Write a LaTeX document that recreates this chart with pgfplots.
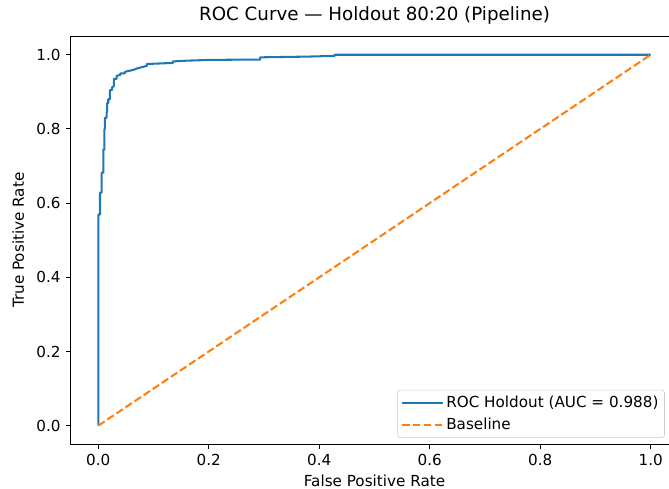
\documentclass[border=0pt]{standalone}
\usepackage{pgfplots}
\pgfplotsset{compat=1.18}
\usepackage{fontspec}
\setmainfont{DejaVu Sans}
\definecolor{tabblue}{HTML}{1F77B4}
\definecolor{taborange}{HTML}{FF7F0E}
\begin{document}
\fontsize{11.4pt}{13.7pt}\selectfont
\begin{tikzpicture}
\begin{axis}[
  at={(53.03pt,33.6pt)}, anchor=south west,
  scale only axis, width=455.7pt, height=306pt,
  xmin=-0.05, xmax=1.05, ymin=-0.05, ymax=1.05,
  xtick={0,0.2,0.4,0.6,0.8,1.0}, ytick={0,0.2,0.4,0.6,0.8,1.0},
  xticklabel style={/pgf/number format/.cd,fixed,fixed zerofill,precision=1},
  yticklabel style={/pgf/number format/.cd,fixed,fixed zerofill,precision=1},
  /pgf/number format/assume math mode=true,
  tick label style={font=\fontsize{11.4pt}{13.7pt}\selectfont},
  tick align=outside, tick pos=left,
  major tick length=3.6pt,
  every tick/.style={black, line width=0.8pt},
  axis line style={black, line width=0.8pt},
  title={ROC Curve — Holdout 80:20 (Pipeline)},
  title style={font=\fontsize{13.7pt}{16pt}\selectfont, at={(0.5,1)}, anchor=base, yshift=6pt},
  xlabel={False Positive Rate}, ylabel={True Positive Rate},
  label style={font=\fontsize{11.4pt}{13.7pt}\selectfont},
  xlabel style={at={(axis description cs:0.5,-0.103)}, anchor=base},
  ylabel style={at={(axis description cs:-0.0769,0.5)}, anchor=base},
  legend style={at={(0.5375,0.133)}, anchor=north west, draw=black!20, rounded corners=2pt,
    fill=white, fill opacity=0.8, text opacity=1, inner sep=2.5pt, row sep=1.8pt,
    font=\fontsize{11.4pt}{13.7pt}\selectfont},
  legend cell align=left,
  legend image code/.code={\draw[#1] (0pt,0pt) -- (24.5pt,0pt); \path (0pt,0pt) -- (30.5pt,0pt);},
]
\addplot[tabblue, line width=1.54pt, line join=round] coordinates {
(0,0) (0,0.569) (0.003,0.569) (0.003,0.628) (0.006,0.628) (0.006,0.682)
(0.009,0.682) (0.009,0.744) (0.011,0.744) (0.011,0.80) (0.012,0.80) (0.012,0.83)
(0.015,0.83) (0.015,0.845) (0.016,0.845) (0.016,0.87) (0.018,0.87) (0.018,0.88)
(0.021,0.88) (0.021,0.905) (0.025,0.905) (0.025,0.912) (0.028,0.915) (0.028,0.935)
(0.033,0.935) (0.033,0.943) (0.04,0.946) (0.04,0.95) (0.048,0.95) (0.048,0.954)
(0.057,0.957) (0.065,0.96) (0.07,0.963) (0.08,0.967) (0.088,0.97) (0.088,0.975)
(0.135,0.978) (0.135,0.982) (0.16,0.984) (0.2,0.986) (0.275,0.987) (0.293,0.987)
(0.293,0.993) (0.38,0.995) (0.428,0.997) (0.428,1.0) (1,1)
};
\addlegendentry{ROC Holdout (AUC = 0.988)\hspace{6pt}}
\addplot[taborange, line width=1.54pt, dash pattern=on 5.7pt off 2.5pt] coordinates {(0,0) (1,1)};
\addlegendentry{Baseline}
\end{axis}
\pgfresetboundingbox
\useasboundingbox (0,0) rectangle (501.75pt,366.75pt);
\end{tikzpicture}
\end{document}
